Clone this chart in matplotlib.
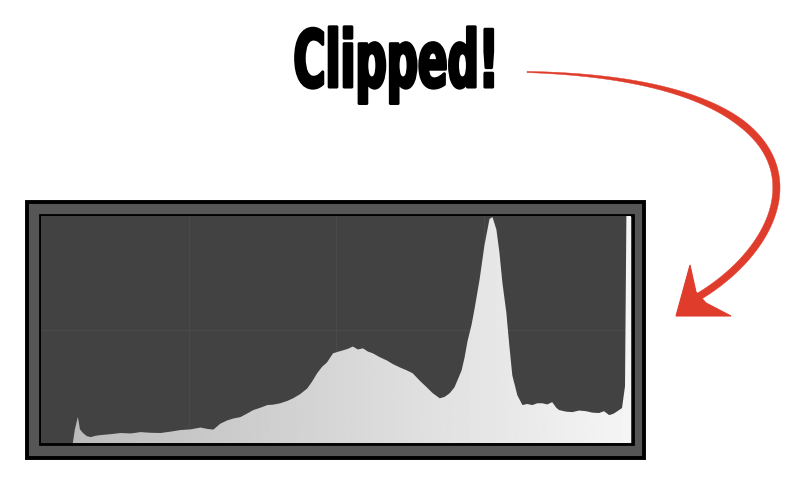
import numpy as np
import matplotlib
matplotlib.use("Agg")
import matplotlib.pyplot as plt
import matplotlib.patheffects as pe
from matplotlib.patches import Rectangle, Polygon
from matplotlib.transforms import Affine2D

# histogram: tone level (0-256) and relative count (0-100)
levels = [13.8, 14.7, 16.0, 16.9, 18.2, 19.9, 21.6, 23.8, 25.9, 30.3, 34.6,
          38.9, 43.2, 47.6, 51.9, 56.2, 60.5, 64.9, 69.2, 72.2, 74.8, 77.8,
          80.9, 83.5, 86.5, 89.5, 92.1, 95.1, 98.2, 100.8, 103.8, 106.8,
          109.4, 112.4, 115.5, 117.6, 119.8, 121.9, 124.1, 126.7, 128.9,
          131.0, 133.2, 135.3, 137.5, 139.7, 141.8, 144.0, 147.0, 150.0,
          152.6, 155.7, 158.7, 161.3, 164.3, 167.3, 169.9, 173.0, 175.1,
          177.3, 179.4, 180.7, 182.5, 183.8, 185.1, 186.8, 188.1, 190.3,
          192.4, 194.6, 195.9, 197.6, 198.9, 200.2, 201.9, 203.2, 204.5,
          206.7, 208.9, 211.0, 213.2, 215.3, 217.5, 219.7, 221.8, 223.6,
          224.8, 227.9, 230.5, 233.5, 236.5, 239.1, 242.1, 244.3, 246.5,
          248.2, 249.5, 250.8, 252.1, 253.4, 254.0, 256.0]
counts = [0, 6, 11.5, 6, 4.4, 3, 2.6, 3.2, 3.5, 3.9, 4.4,
          4.2, 4.8, 4.5, 4.4, 5.0, 5.7, 6.0, 6.8, 6.2, 5.9, 8.5,
          10, 10.8, 11.4, 13, 14.5, 15.5, 16.7, 16.9, 17.5, 18.5,
          19.7, 21.5, 24, 27, 30.7, 33.5, 35.5, 39.5, 40.2,
          40.8, 41.5, 42.5, 41.2, 41.7, 40.3, 39.5, 37.8, 36.4,
          34.8, 33.3, 32, 30.7, 27.5, 24.6, 22, 19.7, 20.3,
          21.9, 24.5, 27.6, 32, 37.7, 45, 52, 59, 72,
          87, 98.7, 99.5, 94, 84, 70.6, 57.5, 43, 29.8,
          21, 16.7, 17.2, 16.7, 17.5, 17.5, 17, 18, 15.5,
          14.5, 13.8, 13.6, 14.3, 14, 13.4, 13.2, 14, 12.3,
          12.8, 13.6, 14.5, 15.4, 25, 100, 100]

label = "Clipped!"


class Squeeze(pe.AbstractPathEffect):
    # narrows the glyphs around cx and thickens the strokes a bit
    def __init__(self, sx, cx, lw):
        super().__init__()
        self.sx = sx
        self.cx = cx
        self.lw = lw

    def draw_path(self, renderer, gc, tpath, affine, rgbFace=None):
        aff = affine + Affine2D().translate(-self.cx, 0).scale(self.sx, 1).translate(self.cx, 0)
        gc0 = renderer.new_gc()
        gc0.copy_properties(gc)
        gc0.set_linewidth(self.lw)
        gc0.set_foreground(rgbFace if rgbFace is not None else "black")
        renderer.draw_path(gc0, tpath, aff, rgbFace)
        gc0.restore()


fig = plt.figure(figsize=(7.98, 4.78), dpi=100)
fig.patch.set_facecolor("white")

# background axes in pixel units for the frame, title and arrow
bg = fig.add_axes([0, 0, 1, 1])
bg.set_xlim(0, 798)
bg.set_ylim(478, 0)
bg.axis("off")

bg.add_patch(Rectangle((26.5, 201.5), 617, 257, facecolor="#565656",
                       edgecolor="black", lw=2.8))
bg.add_patch(Rectangle((39.5, 214.5), 593, 229, facecolor="#424242",
                       edgecolor="black", lw=2.0))

# histogram
ax = fig.add_axes([41 / 798, 35 / 478, 590 / 798, 227 / 478])
ax.set_facecolor("#424242")
ax.set_xlim(0, 256)
ax.set_ylim(0, 100)
for s in ax.spines.values():
    s.set_visible(False)
ax.set_xticks([])
ax.set_yticks([])
for v in [64, 128, 192]:
    ax.axvline(v, color="#4a4a4a", lw=0.8, zorder=1)
ax.axhline(50, color="#4a4a4a", lw=0.8, zorder=1)

area = ax.fill_between(levels, counts, 0, facecolor="none", edgecolor="none")
grad = np.linspace(0.72, 0.96, 256)[None, :]
im = ax.imshow(grad, extent=(0, 256, 0, 100), aspect="auto", cmap="gray",
               vmin=0, vmax=1, zorder=2, interpolation="bilinear")
im.set_clip_path(area.get_paths()[0], transform=ax.transData)

# title text
txt = bg.text(396, 87, label, ha="center", va="baseline", fontsize=57,
              fontweight="bold", color="black",
              fontfamily=["Liberation Sans Narrow", "DejaVu Sans"])
fig.canvas.draw()
bb = txt.get_window_extent()
txt.set_path_effects([Squeeze(205 / bb.width, (bb.x0 + bb.x1) / 2, 2.2)])

# red arrow
red = "#e03c2c"
p0 = np.array([527, 72])
p1 = np.array([840, 80])
p2 = np.array([810, 230])
p3 = np.array([698, 297])
t = np.linspace(0, 1, 120)[:, None]
pts = (1 - t) ** 3 * p0 + 3 * (1 - t) ** 2 * t * p1 + 3 * (1 - t) * t ** 2 * p2 + t ** 3 * p3
der = 3 * (1 - t) ** 2 * (p1 - p0) + 6 * (1 - t) * t * (p2 - p1) + 3 * t ** 2 * (p3 - p2)
nrm = np.column_stack([-der[:, 1], der[:, 0]])
nrm = nrm / np.linalg.norm(nrm, axis=1)[:, None]
w = 0.6 + 3.0 * np.clip(t[:, 0] / 0.35, 0, 1)
left = pts + nrm * w[:, None]
right = pts - nrm * w[:, None]
bg.add_patch(Polygon(np.vstack([left, right[::-1]]), closed=True,
                     facecolor=red, edgecolor=red, lw=0.3))
bg.add_patch(Polygon([(690, 265), (696, 292), (706, 303), (731, 316), (676, 316)],
                     closed=True, facecolor=red, edgecolor=red, lw=0.8))

fig.savefig("out.png", dpi=100)
